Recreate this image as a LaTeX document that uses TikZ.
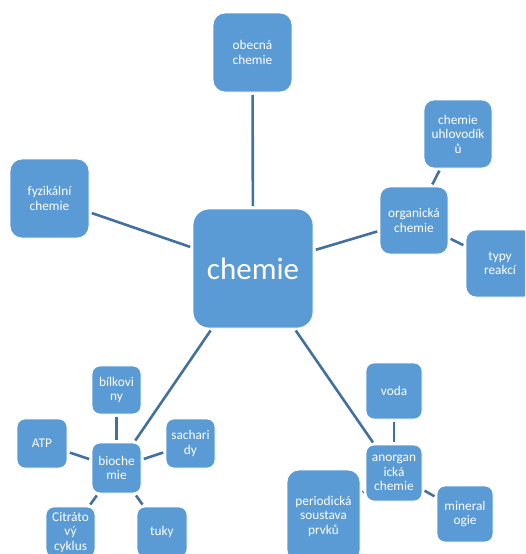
\documentclass[tikz,border=0pt]{standalone}
\usepackage{fontspec}
\setmainfont{Carlito}
\usetikzlibrary{backgrounds}
\definecolor{boxblue}{HTML}{5B9BD5}
\definecolor{lineblue}{HTML}{41719C}
\tikzset{
  box/.style={rectangle, rounded corners=10pt, fill=boxblue, draw=white, line width=0.8pt,
    text=white, align=center, inner sep=0pt, font=\fontsize{13.3}{14.5}\selectfont},
  small/.style={rounded corners=8pt},
  link/.style={draw=lineblue, line width=2.6pt, shorten >=2.5pt, shorten <=2.5pt}
}
\begin{document}
\begin{tikzpicture}[x=1pt, y=-1pt]
\useasboundingbox (0,0) rectangle (525,554);
\clip (0,0) rectangle (525,554);
\node[box, rounded corners=16pt, minimum width=120pt, minimum height=119pt, font=\fontsize{31}{34}\selectfont] (chem) at (253,268.5) {chemie};
\node[box, rounded corners=12pt, minimum width=79pt, minimum height=79pt] (obec) at (252.5,52.5) {obecná\\chemie};
\node[box, rounded corners=12pt, minimum width=79pt, minimum height=79pt] (fyz) at (49.5,198.5) {fyzikální\\chemie};
\node[box, minimum width=68pt, minimum height=67pt] (org) at (414,220.5) {organická\\chemie};
\node[box, minimum width=68pt, minimum height=68pt] (uhl) at (458,134) {chemie\\uhlovodík\\ů};
\node[box, minimum width=68pt, minimum height=67pt] (typy) at (500,263.5) {typy\\reakcí};
\node[box, small, minimum width=49pt, minimum height=50pt] (bio) at (116.5,468) {bioche\\mie};
\node[box, small, minimum width=49pt, minimum height=48pt] (bilk) at (116.5,390) {bílkovi\\ny};
\node[box, small, minimum width=50pt, minimum height=49pt] (atp) at (42,443.5) {ATP};
\node[box, small, minimum width=49pt, minimum height=49pt] (sach) at (190.5,443.5) {sachari\\dy};
\node[box, small, minimum width=49pt, minimum height=50pt] (citr) at (70.5,532) {Citráto\\vý\\cyklus};
\node[box, small, minimum width=50pt, minimum height=50pt] (tuky) at (162,532) {tuky};
\node[box, small, minimum width=56pt, minimum height=56pt] (anorg) at (394,473) {anorgan\\ická\\chemie};
\node[box, small, minimum width=56pt, minimum height=56pt] (voda) at (394,391) {voda};
\node[box, rounded corners=12pt, minimum width=73pt, minimum height=92pt] (per) at (323.5,516) {periodická\\soustava\\prvků};
\node[box, small, minimum width=56pt, minimum height=56pt] (min) at (465,514) {mineral\\ogie};
\begin{scope}[on background layer]
\draw[link] (chem) -- (obec);
\draw[link] (chem) -- (fyz);
\draw[link] (chem) -- (org);
\draw[link] (chem) -- (bio);
\draw[link] (chem) -- (anorg);
\draw[link] (org) -- (uhl);
\draw[link] (org) -- (typy);
\draw[link] (bio) -- (bilk);
\draw[link] (bio) -- (atp);
\draw[link] (bio) -- (sach);
\draw[link] (bio) -- (citr);
\draw[link] (bio) -- (tuky);
\draw[link] (anorg) -- (voda);
\draw[link] (anorg) -- (per);
\draw[link] (anorg) -- (min);
\end{scope}
\end{tikzpicture}
\end{document}
